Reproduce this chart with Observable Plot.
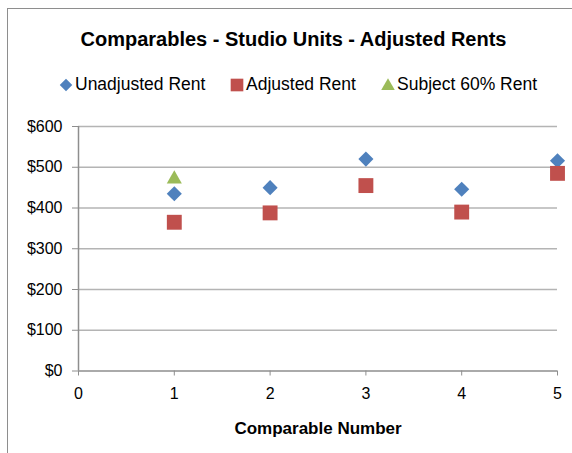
<!DOCTYPE html>
<html><head><meta charset="utf-8">
<script src="https://cdn.jsdelivr.net/npm/d3@7"></script>
<script src="https://cdn.jsdelivr.net/npm/@observablehq/plot@0.6"></script>
<style>
body{margin:0;background:#fff;font-family:"Liberation Sans",Arial,sans-serif;}
#wrap{position:relative;width:572px;height:453px;overflow:hidden;background:#fff;}
#frame{position:absolute;left:7px;top:8px;width:620px;height:520px;border:1px solid #8e8e8e;}
#title{position:absolute;left:0;width:587px;top:27px;line-height:24px;text-align:center;font-weight:bold;font-size:20px;color:#000;white-space:nowrap;}
#legend{position:absolute;left:0;top:73px;width:572px;height:22px;font-size:17.5px;color:#000;white-space:nowrap;}
#legend .item{position:absolute;top:0;height:22px;line-height:22px;}
#legend svg{position:absolute;top:4px;}
#chart{position:absolute;left:0;top:100px;}
</style></head>
<body><div id="wrap"><div id="frame"></div>
<div id="title">Comparables - Studio Units - Adjusted Rents</div>
<div id="legend"></div>
<div id="chart"></div></div>
<script>
const comparables = [1, 2, 3, 4, 5];
const unadjustedRent = [435, 450, 520, 446, 516];
const adjustedRent = [365, 388, 455, 390, 485];
const subjectX = [1];
const subjectRent = [476];
const seriesNames = ["Unadjusted Rent", "Adjusted Rent", "Subject 60% Rent"];
const seriesColors = ["#4F81BD", "#C0504D", "#9BBB59"];
const seriesSymbols = ["diamond2", "square", "triangle"];
const xTicks = [0, 1, 2, 3, 4, 5];
const yTicks = [0, 100, 200, 300, 400, 500, 600];
const xTitle = "Comparable Number";

const unadj = comparables.map((c, i) => ({x: c, y: unadjustedRent[i]}));
const adj = comparables.map((c, i) => ({x: c, y: adjustedRent[i]}));
const subj = subjectX.map((c, i) => ({x: c, y: subjectRent[i]}));

// Legend
const legend = document.getElementById("legend");
const legendLeft = [58, 229, 380];
const symMap = {diamond2: d3.symbolDiamond2, square: d3.symbolSquare, triangle: d3.symbolTriangle};
const legendSizes = [100, 160, 80];
seriesNames.forEach((n, i) => {
  const it = document.createElement("div");
  it.className = "item";
  it.style.left = legendLeft[i] + "px";
  const s = d3.create("svg").attr("width", 16).attr("height", 16);
  s.append("path").attr("transform", "translate(8," + (i === 2 ? 9 : 8) + ")")
    .attr("d", d3.symbol(symMap[seriesSymbols[i]], legendSizes[i])())
    .attr("fill", seriesColors[i]);
  it.appendChild(s.node());
  const t = document.createElement("span");
  t.style.marginLeft = "17px";
  t.textContent = n;
  it.appendChild(t);
  legend.appendChild(it);
});

const plot = Plot.plot({
  width: 572,
  height: 353,
  marginLeft: 78,
  marginRight: 15,
  marginTop: 26,
  marginBottom: 82.5,
  style: {fontFamily: "Liberation Sans, Arial, sans-serif", fontSize: "16px", color: "#000", overflow: "visible"},
  x: {domain: [0, 5]},
  y: {domain: [0, 600]},
  marks: [
    Plot.ruleY(yTicks.filter(d => d > 0), {stroke: "#b4b4b4", strokeWidth: 1.5}),
    Plot.ruleX([0], {stroke: "#8e8e8e", strokeWidth: 1.5}),
    Plot.ruleY([0], {stroke: "#8e8e8e", strokeWidth: 1.5}),
    Plot.axisY({ticks: yTicks, tickFormat: d => "$" + d, tickSize: 6, stroke: "#8e8e8e", tickPadding: 10, label: null, fontSize: 16}),
    Plot.axisX({ticks: xTicks, tickFormat: d => String(d), tickSize: 5, stroke: "#8e8e8e", tickPadding: 12, label: null, fontSize: 16}),
    Plot.text([xTitle], {frameAnchor: "bottom", dx: 0, dy: 63, text: d => d, fontWeight: "bold", fontSize: 17}),
    Plot.dot(unadj, {x: "x", y: "y", symbol: seriesSymbols[0], fill: seriesColors[0], r: 6.8, stroke: "none"}),
    Plot.dot(adj, {x: "x", y: "y", symbol: seriesSymbols[1], fill: seriesColors[1], r: 8.4, stroke: "none"}),
    Plot.dot(subj, {x: "x", y: "y", symbol: seriesSymbols[2], fill: seriesColors[2], r: 5.6, stroke: "none", dy: 2})
  ]
});
document.getElementById("chart").appendChild(plot);
</script>
</body></html>
